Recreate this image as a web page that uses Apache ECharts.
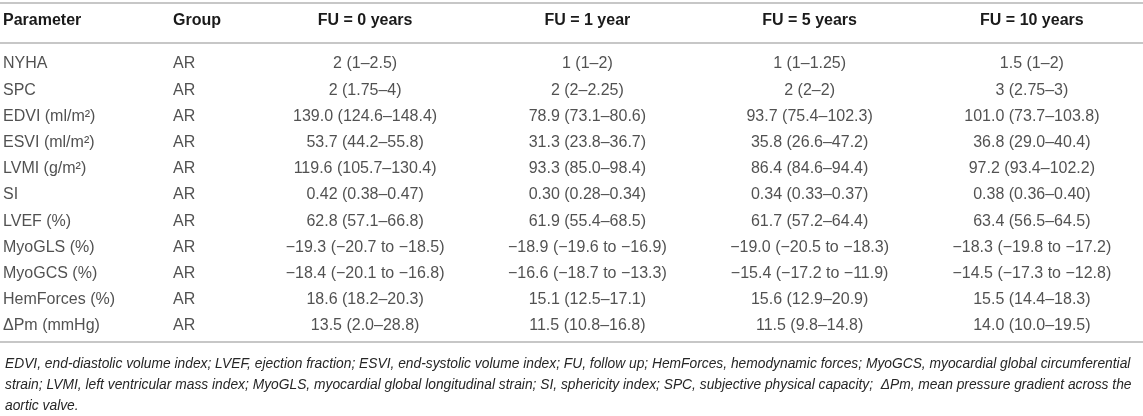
<!DOCTYPE html>
<html>
<head>
<meta charset="utf-8">
<script src="https://cdn.jsdelivr.net/npm/echarts@6/dist/echarts.min.js"></script>
<style>
  html, body { margin: 0; padding: 0; background: #fff; }
  #main { width: 1143px; height: 416px; }
</style>
</head>
<body>
<div id="main"></div>
<script>
// table content
var leftHeaders = ['Parameter', 'Group'];
var fuHeaders = ['FU = 0 years', 'FU = 1 year', 'FU = 5 years', 'FU = 10 years'];
var parameters = ['NYHA', 'SPC', 'EDVI (ml/m²)', 'ESVI (ml/m²)', 'LVMI (g/m²)', 'SI', 'LVEF (%)',
  'MyoGLS (%)', 'MyoGCS (%)', 'HemForces (%)', 'ΔPm (mmHg)'];
var groups = ['AR', 'AR', 'AR', 'AR', 'AR', 'AR', 'AR', 'AR', 'AR', 'AR', 'AR'];
var fu0 = ['2 (1–2.5)', '2 (1.75–4)', '139.0 (124.6–148.4)', '53.7 (44.2–55.8)', '119.6 (105.7–130.4)',
  '0.42 (0.38–0.47)', '62.8 (57.1–66.8)', '−19.3 (−20.7 to −18.5)', '−18.4 (−20.1 to −16.8)',
  '18.6 (18.2–20.3)', '13.5 (2.0–28.8)'];
var fu1 = ['1 (1–2)', '2 (2–2.25)', '78.9 (73.1–80.6)', '31.3 (23.8–36.7)', '93.3 (85.0–98.4)',
  '0.30 (0.28–0.34)', '61.9 (55.4–68.5)', '−18.9 (−19.6 to −16.9)', '−16.6 (−18.7 to −13.3)',
  '15.1 (12.5–17.1)', '11.5 (10.8–16.8)'];
var fu5 = ['1 (1–1.25)', '2 (2–2)', '93.7 (75.4–102.3)', '35.8 (26.6–47.2)', '86.4 (84.6–94.4)',
  '0.34 (0.33–0.37)', '61.7 (57.2–64.4)', '−19.0 (−20.5 to −18.3)', '−15.4 (−17.2 to −11.9)',
  '15.6 (12.9–20.9)', '11.5 (9.8–14.8)'];
var fu10 = ['1.5 (1–2)', '3 (2.75–3)', '101.0 (73.7–103.8)', '36.8 (29.0–40.4)', '97.2 (93.4–102.2)',
  '0.38 (0.36–0.40)', '63.4 (56.5–64.5)', '−18.3 (−19.8 to −17.2)', '−14.5 (−17.3 to −12.8)',
  '15.5 (14.4–18.3)', '14.0 (10.0–19.5)'];
var footnote = [
  'EDVI, end-diastolic volume index; LVEF, ejection fraction; ESVI, end-systolic volume index; FU, follow up; HemForces, hemodynamic forces; MyoGCS, myocardial global circumferential',
  'strain; LVMI, left ventricular mass index; MyoGLS, myocardial global longitudinal strain; SI, sphericity index; SPC, subjective physical capacity;  ΔPm, mean pressure gradient across the',
  'aortic valve.'
];

var FONT = '"Liberation Sans", Arial, Helvetica, sans-serif';
var TEXT = '#262626';
var RULE = '#b5b5b5';

var myChart = echarts.init(document.getElementById('main'));

function cellSeries(col, colIndex, gridIndex, left) {
  return {
    type: 'scatter',
    xAxisIndex: gridIndex,
    yAxisIndex: gridIndex,
    symbolSize: 0,
    silent: true,
    data: col.map(function (v, i) { return [colIndex, i]; }),
    label: {
      show: true,
      position: left ? 'right' : 'inside',
      distance: 0,
      color: TEXT,
      fontFamily: FONT,
      fontSize: 16,
      formatter: function (p) { return col[p.dataIndex]; }
    }
  };
}

function headerAxis(data, gridIndex, left) {
  return {
    type: 'category',
    gridIndex: gridIndex,
    position: 'top',
    data: data,
    boundaryGap: !left,
    axisLine: { show: false },
    axisTick: { show: false },
    splitLine: { show: false },
    axisLabel: {
      interval: 0,
      margin: 22,
      align: left ? 'left' : 'center',
      color: '#1a1a1a',
      fontFamily: FONT,
      fontSize: 16,
      fontWeight: 'bold'
    }
  };
}

function rowAxis(gridIndex) {
  return {
    type: 'category',
    gridIndex: gridIndex,
    inverse: true,
    data: parameters,
    show: false
  };
}

function rule(y) {
  return {
    type: 'line',
    silent: true,
    shape: { x1: 0, y1: y, x2: 1143, y2: y },
    style: { stroke: RULE, lineWidth: 1.5 }
  };
}

var option = {
  animation: false,
  backgroundColor: '#fff',
  title: {
    text: footnote.join('\n'),
    left: 0,
    top: 349,
    textStyle: {
      fontFamily: FONT,
      fontSize: 13.8,
      fontStyle: 'italic',
      fontWeight: 'normal',
      color: TEXT,
      lineHeight: 21
    }
  },
  grid: [
    { left: 3, width: 170, top: 50.9, bottom: 76.9 },
    { left: 254, right: -31, top: 50.9, bottom: 76.9 }
  ],
  xAxis: [headerAxis(leftHeaders, 0, true), headerAxis(fuHeaders, 1, false)],
  yAxis: [rowAxis(0), rowAxis(1)],
  graphic: [rule(3), rule(43), rule(342)],
  series: [
    cellSeries(parameters, 0, 0, true),
    cellSeries(groups, 1, 0, true),
    cellSeries(fu0, 0, 1, false),
    cellSeries(fu1, 1, 1, false),
    cellSeries(fu5, 2, 1, false),
    cellSeries(fu10, 3, 1, false)
  ]
};

myChart.setOption(option);
</script>
</body>
</html>
